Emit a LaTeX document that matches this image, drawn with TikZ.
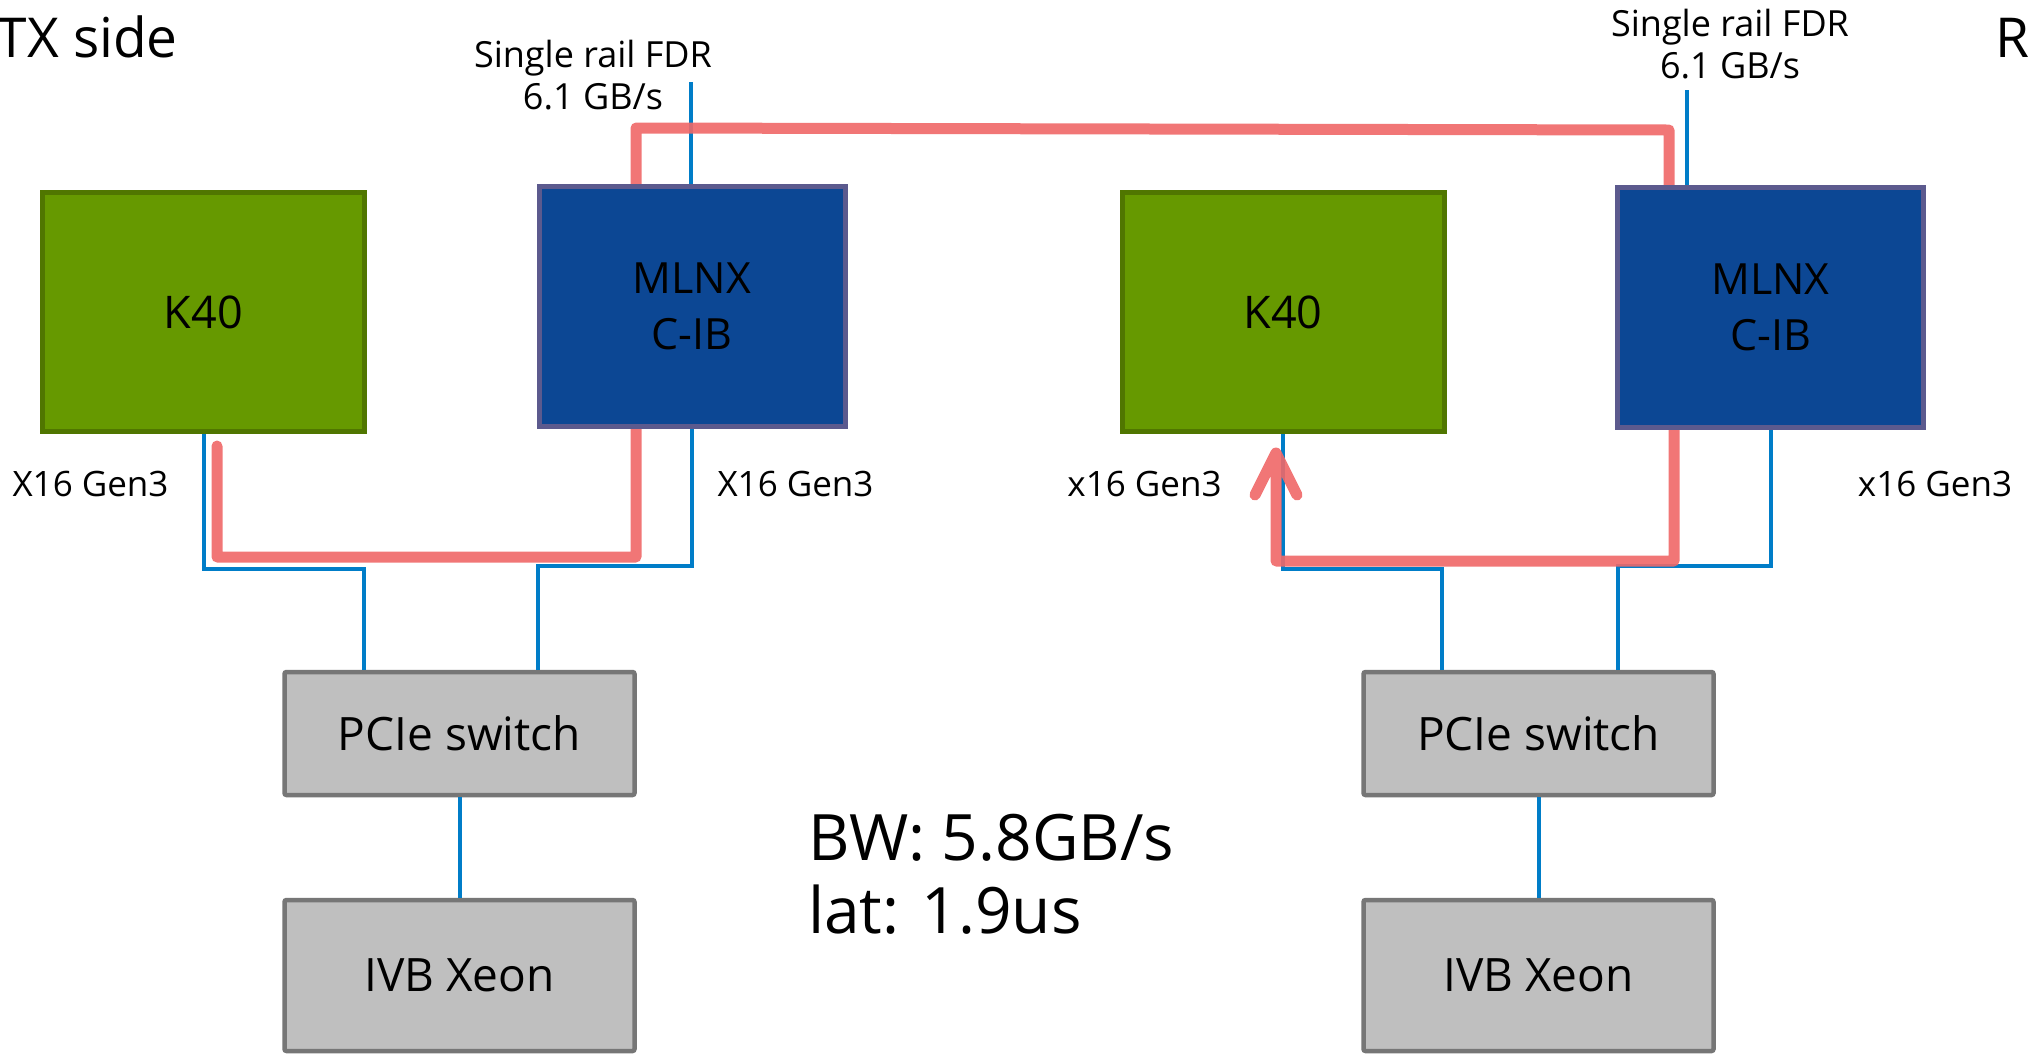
\documentclass[tikz,border=0pt]{standalone}
\usepackage{fontspec}
\setmainfont{Open Sans}
\usetikzlibrary{calc}
\definecolor{gpu}{RGB}{102,153,0}
\definecolor{gpuline}{RGB}{80,118,0}
\definecolor{nic}{RGB}{12,71,148}
\definecolor{nicline}{RGB}{92,90,142}
\definecolor{boxgray}{RGB}{191,191,191}
\definecolor{boxline}{RGB}{118,118,118}
\definecolor{wireblue}{RGB}{0,125,200}
\definecolor{routered}{RGB}{240,104,104}
\newcommand{\myfs}[2]{\fontsize{#1}{#2}\selectfont}
\begin{document}
\begin{tikzpicture}[x=1pt,y=-1pt,
  gpubox/.style={draw=gpuline, fill=gpu, line width=5pt, minimum width=322pt, minimum height=239pt, inner sep=0pt, font={\myfs{45}{54}}},
  nicbox/.style={draw=nicline, fill=nic, line width=5pt, minimum width=306pt, minimum height=240pt, inner sep=0pt, align=center, font={\myfs{43}{56}}},
  graybox/.style={draw=boxline, fill=boxgray, line width=4.5pt, rounded corners=2pt, minimum width=350pt, inner sep=0pt, font={\myfs{46}{54}}},
  lbl/.style={inner sep=0pt, anchor=base},
  wire/.style={draw=wireblue, line width=4pt},
  route/.style={draw=routered, draw opacity=0.9, line width=11pt, line cap=round, line join=round}
]
\useasboundingbox (0,0) rectangle (2028,1053);
\fill[white] (0,0) rectangle (2028,1053);
\clip (0,0) rectangle (2028,1053);

% ---------- node centres ----------
\coordinate (k40Lc) at (203.5,312);
\coordinate (mlnxLc) at (692,306.5);
\coordinate (k40Rc) at (1283,312);
\coordinate (mlnxRc) at (1770.5,307);

% ---------- invisible copies of the top boxes, for wire anchors
\path node[gpubox, draw=none, fill=none, text opacity=0] (k40L) at (k40Lc) {K40};
\path node[nicbox, draw=none, fill=none, text opacity=0] (mlnxL) at (mlnxLc) {MLNX\\C-IB};
\path node[gpubox, draw=none, fill=none, text opacity=0] (k40R) at (k40Rc) {K40};
\path node[nicbox, draw=none, fill=none, text opacity=0] (mlnxR) at (mlnxRc) {MLNX\\C-IB};
\node[graybox, minimum height=123pt] (pcieL) at (459.5,733.5) {PCIe switch};
\node[graybox, minimum height=123pt] (pcieR) at (1538.5,733.5) {PCIe switch};
\node[graybox, minimum height=151pt] (xeonL) at (459.5,975.5) {IVB Xeon};
\node[graybox, minimum height=151pt] (xeonR) at (1538.5,975.5) {IVB Xeon};

% ---------- blue wires ----------
\coordinate (jL1) at (364,569);
\coordinate (jL2) at (538,566);
\coordinate (jR1) at (1442,569);
\coordinate (jR2) at (1618,566);
\coordinate (fdrLtop) at (691,82);
\coordinate (fdrRtop) at (1687,90);
\draw[wire] (k40L.south) |- (jL1) -- (jL1 |- pcieL.north);
\draw[wire] (mlnxL.south) |- (jL2) -- (jL2 |- pcieL.north);
\draw[wire] (k40R.south) |- (jR1) -- (jR1 |- pcieR.north);
\draw[wire] (mlnxR.south) |- (jR2) -- (jR2 |- pcieR.north);
\draw[wire] (fdrLtop) -- (fdrLtop |- mlnxL.north);
\draw[wire] (fdrRtop) -- (fdrRtop |- mlnxR.north);
\draw[wire] (pcieL.south) -- (xeonL.north);
\draw[wire] (pcieR.south) -- (xeonR.north);

% ---------- red data route ----------
\coordinate (rA) at (217,446);
\coordinate (rB) at (217,557);
\coordinate (rC) at (636,557);
\coordinate (rD) at (636,128);
\coordinate (rE) at (1669,130);
\coordinate (rF) at (1669,300);
\coordinate (rG) at (1674,300);
\coordinate (rH) at (1674,561);
\coordinate (rI) at (1276,561);
\coordinate (rJ) at (1276,453);
\coordinate (rW1) at (1255,495);
\coordinate (rW2) at (1297,495);
\draw[route] (rA) -- (rB) -- (rC) -- (rD) -- (rE) -- (rF) -- (rG) -- (rH) -- (rI) -- (rJ)
  (rW1) -- (rJ) -- (rW2);

% ---------- boxes on top ----------
\node[gpubox] (k40Lv) at (k40Lc) {K40};
\node[nicbox] (mlnxLv) at (mlnxLc) {MLNX\\C-IB};
\node[gpubox] (k40Rv) at (k40Rc) {K40};
\node[nicbox] (mlnxRv) at (mlnxRc) {MLNX\\C-IB};

% ---------- labels ----------
\node[inner sep=0pt, anchor=base east, font={\myfs{55}{55}}] (txside) at (178,57) {TX side};
\node[inner sep=0pt, anchor=base west, font={\myfs{55}{55}}] (rxside) at (1995,57) {RX side};
\node[lbl, font={\myfs{36}{36}}] (fdrL1) at (593,67) {Single rail FDR};
\node[lbl, font={\myfs{36}{36}}] (fdrL2) at (593,109) {6.1 GB/s};
\node[lbl, font={\myfs{36}{36}}] (fdrR1) at (1730,36) {Single rail FDR};
\node[lbl, font={\myfs{36}{36}}] (fdrR2) at (1730,78) {6.1 GB/s};
\node[lbl, font={\myfs{35}{35}}] (genA) at (90.5,496) {X16 Gen3};
\node[lbl, font={\myfs{35}{35}}] (genB) at (795.5,496) {X16 Gen3};
\node[lbl, font={\myfs{35}{35}}] (genC) at (1144.5,496) {x16 Gen3};
\node[lbl, font={\myfs{35}{35}}] (genD) at (1935,496) {x16 Gen3};
\node[inner sep=0pt, anchor=base west, font={\myfs{64}{73}}] (bw) at (808,860) {BW: 5.8GB/s};
\node[inner sep=0pt, anchor=base west, font={\myfs{64}{73}}] (lat) at (808,933) {lat: 1.9us};
\end{tikzpicture}
\end{document}
